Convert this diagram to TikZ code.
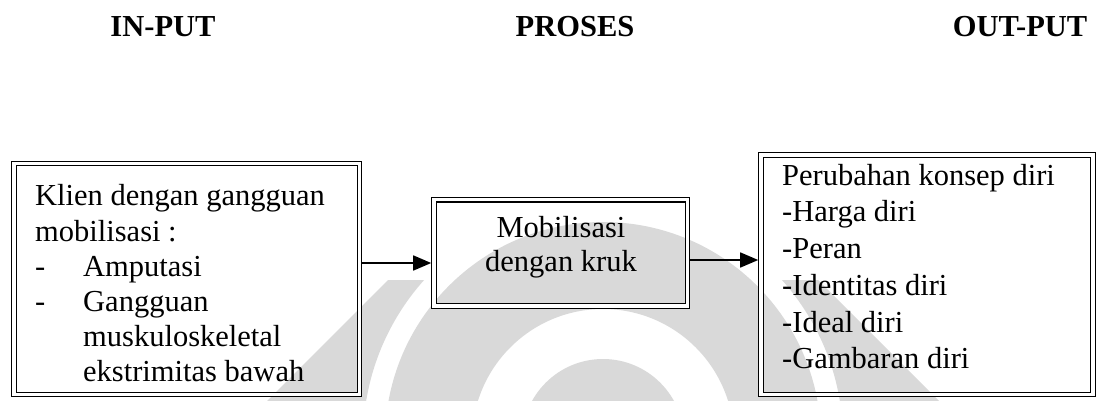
\documentclass[tikz,border=0pt]{standalone}
\usepackage{fontspec}
\setmainfont{Liberation Serif}
\usetikzlibrary{arrows.meta}
\begin{document}
\begin{tikzpicture}[x=1pt,y=-1pt,
  box/.style={draw, double, double distance=3.2pt, line width=1.2pt, inner sep=0pt, outer sep=2.8pt, rectangle},
  txt/.style={anchor=base west, inner sep=0pt, font=\fontsize{30.5}{36}\selectfont},
  ctxt/.style={anchor=base, inner sep=0pt, font=\fontsize{30.5}{36}\selectfont},
  hd/.style={anchor=base, inner sep=0pt, font=\fontsize{30.5}{36}\selectfont\bfseries},
  arr/.style={line width=1.6pt, -{Triangle[length=18pt,width=15pt]}},
  wm/.style={fill=black!15, draw=none}]
\useasboundingbox (0,0) rectangle (1099,401);
% watermark
\begin{scope}
  \clip (0,0) rectangle (1099,401);
  \fill[wm, even odd rule] (603,440) circle[radius=218pt] circle[radius=131pt];
  \fill[wm] (603,440) circle[radius=81pt];
  \begin{scope}
    \clip (267,401) -- (388,280) -- (818,280) -- (939,401) -- cycle;
    \fill[wm, even odd rule] (603,440) circle[radius=420pt] circle[radius=240pt];
  \end{scope}
\end{scope}
% headers
\node[hd] (h1) at (163,37) {IN-PUT};
\node[hd] (h2) at (575,37) {PROSES};
\node[hd] (h3) at (1020,37) {OUT-PUT};
% boxes
\node[box, minimum width=345.5pt, minimum height=231pt] (L) at (186.75,279) {};
\node[box, minimum width=253.5pt, minimum height=106.3pt] (M) at (560.75,252.85) {};
\node[box, minimum width=332pt, minimum height=239.5pt] (R) at (927,274.75) {};
% left text
\node[txt] (l1) at (35,205) {Klien dengan gangguan};
\node[txt] (l2) at (35,241) {mobilisasi :};
\node[txt] (l3d) at (35,276) {-};
\node[txt] (l3) at (83,276) {Amputasi};
\node[txt] (l4d) at (35,311) {-};
\node[txt] (l4) at (83,311) {Gangguan};
\node[txt] (l5) at (83,346) {muskuloskeletal};
\node[txt] (l6) at (83,381) {ekstrimitas bawah};
% middle text
\node[ctxt] (m1) at (561,237) {Mobilisasi};
\node[ctxt] (m2) at (561,271) {dengan kruk};
% right text
\node[txt] (r1) at (782,185) {Perubahan konsep diri};
\node[txt] (r2) at (782,221) {-Harga diri};
\node[txt] (r3) at (782,258) {-Peran};
\node[txt] (r4) at (782,295) {-Identitas diri};
\node[txt] (r5) at (782,332) {-Ideal diri};
\node[txt] (r6) at (782,368) {-Gambaran diri};
% arrows
\coordinate (a1) at (0,263);
\coordinate (a2) at (0,260);
\draw[arr] (L.east |- a1) -- (M.west |- a1);
\draw[arr] (M.east |- a2) -- (R.west |- a2);
\end{tikzpicture}
\end{document}
